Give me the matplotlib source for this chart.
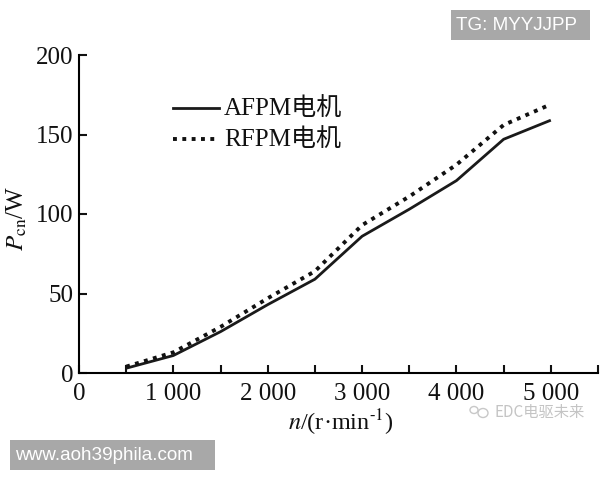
import matplotlib
matplotlib.use('Agg')
import matplotlib.pyplot as plt
from matplotlib.patches import Rectangle, Ellipse

plt.rcParams['font.family'] = ['Liberation Serif', 'Noto Sans CJK SC', 'DejaVu Sans']
plt.rcParams['mathtext.fontset'] = 'stix'

speed = [500, 1000, 1500, 2000, 2500, 3000, 3500, 4000, 4500, 5000]
afpm = [3, 11, 26, 43, 59, 86, 103, 121, 147, 159]
rfpm = [4, 13, 29, 47, 64, 93, 111, 131, 156, 169]

x_ticks = [0, 1000, 2000, 3000, 4000, 5000]
x_labels = ['0', '1 000', '2 000', '3 000', '4 000', '5 000']
x_minor = [500, 1500, 2500, 3500, 4500]
y_ticks = [0, 50, 100, 150, 200]

W, H = 600, 480
dots = (0, (1, 1.4))
fig = plt.figure(figsize=(W / 100, H / 100), dpi=100)
ax = fig.add_axes([79 / W, 1 - 373 / H, (598 - 79) / W, (373 - 55) / H])

ax.plot(speed, afpm, '-', color='#1a1a1a', lw=2.0, solid_capstyle='butt')
ax.plot(speed, rfpm, color='#111111', lw=2.8, linestyle=dots)

ax.set_xlim(0, 5500)
ax.set_ylim(0, 200)
ax.spines['top'].set_visible(False)
ax.spines['right'].set_visible(False)
ax.spines['left'].set_linewidth(1.5)
ax.spines['bottom'].set_linewidth(1.5)
ax.set_xticks(x_ticks)
ax.set_xticklabels(x_labels)
ax.set_xticks(x_minor + [5500], minor=True)
ax.set_yticks(y_ticks)
ax.tick_params(axis='both', which='both', direction='in', length=6, width=1.5,
               labelsize=18, colors='#111111')
ax.tick_params(axis='x', pad=7)
ax.tick_params(axis='y', pad=4, length=6)

# legend drawn by hand since the handles sit tight against the text
leg_x = [173 / W, 219 / W]
fig.add_artist(plt.Line2D(leg_x, [1 - 108 / H] * 2, color='#1a1a1a', lw=2.0))
fig.add_artist(plt.Line2D(leg_x, [1 - 139 / H] * 2, color='#111111', lw=2.8, linestyle=dots))
fig.text(224 / W, 1 - 109 / H, 'AFPM电机', fontsize=18, va='center', color='#111111')
fig.text(224 / W, 1 - 140 / H, 'RFPM电机', fontsize=18, va='center', color='#111111')

fig.text(341 / W, 1 - 423 / H, '$n$/(r·min$^{\u20101}$)', fontsize=17.5, ha='center',
         va='center', color='#111111')
fig.text(17 / W, 1 - 218 / H, r'$P_{\mathrm{cn}}$/W', fontsize=18, rotation=90,
         ha='center', va='center', color='#111111')

# watermark boxes
for x0, y0, bw, bh, label in [(451, 10, 139, 30, 'TG: MYYJJPP'),
                              (10, 440, 205, 30, 'www.aoh39phila.com')]:
    fig.add_artist(Rectangle((x0 / W, 1 - (y0 + bh) / H), bw / W, bh / H,
                             transform=fig.transFigure, color='#a8a8a8', lw=0))
    fig.text((x0 + 5) / W, 1 - (y0 + bh / 2) / H, label, fontsize=13.6, color='white',
             family='Liberation Sans', va='center')

fig.add_artist(Ellipse((474 / W, 1 - 410 / H), 8 / W, 7 / H, transform=fig.transFigure,
                       fill=False, ec='#c8c8c8', lw=1))
fig.add_artist(Ellipse((483 / W, 1 - 413 / H), 10 / W, 9 / H, transform=fig.transFigure,
                       fill=False, ec='#c8c8c8', lw=1))
fig.text(495 / W, 1 - 412 / H, 'EDC电驱未来', fontsize=11, color='#c4c4c4', va='center',
         family=['Noto Sans CJK SC', 'DejaVu Sans'])

fig.savefig('out.png', dpi=100)
